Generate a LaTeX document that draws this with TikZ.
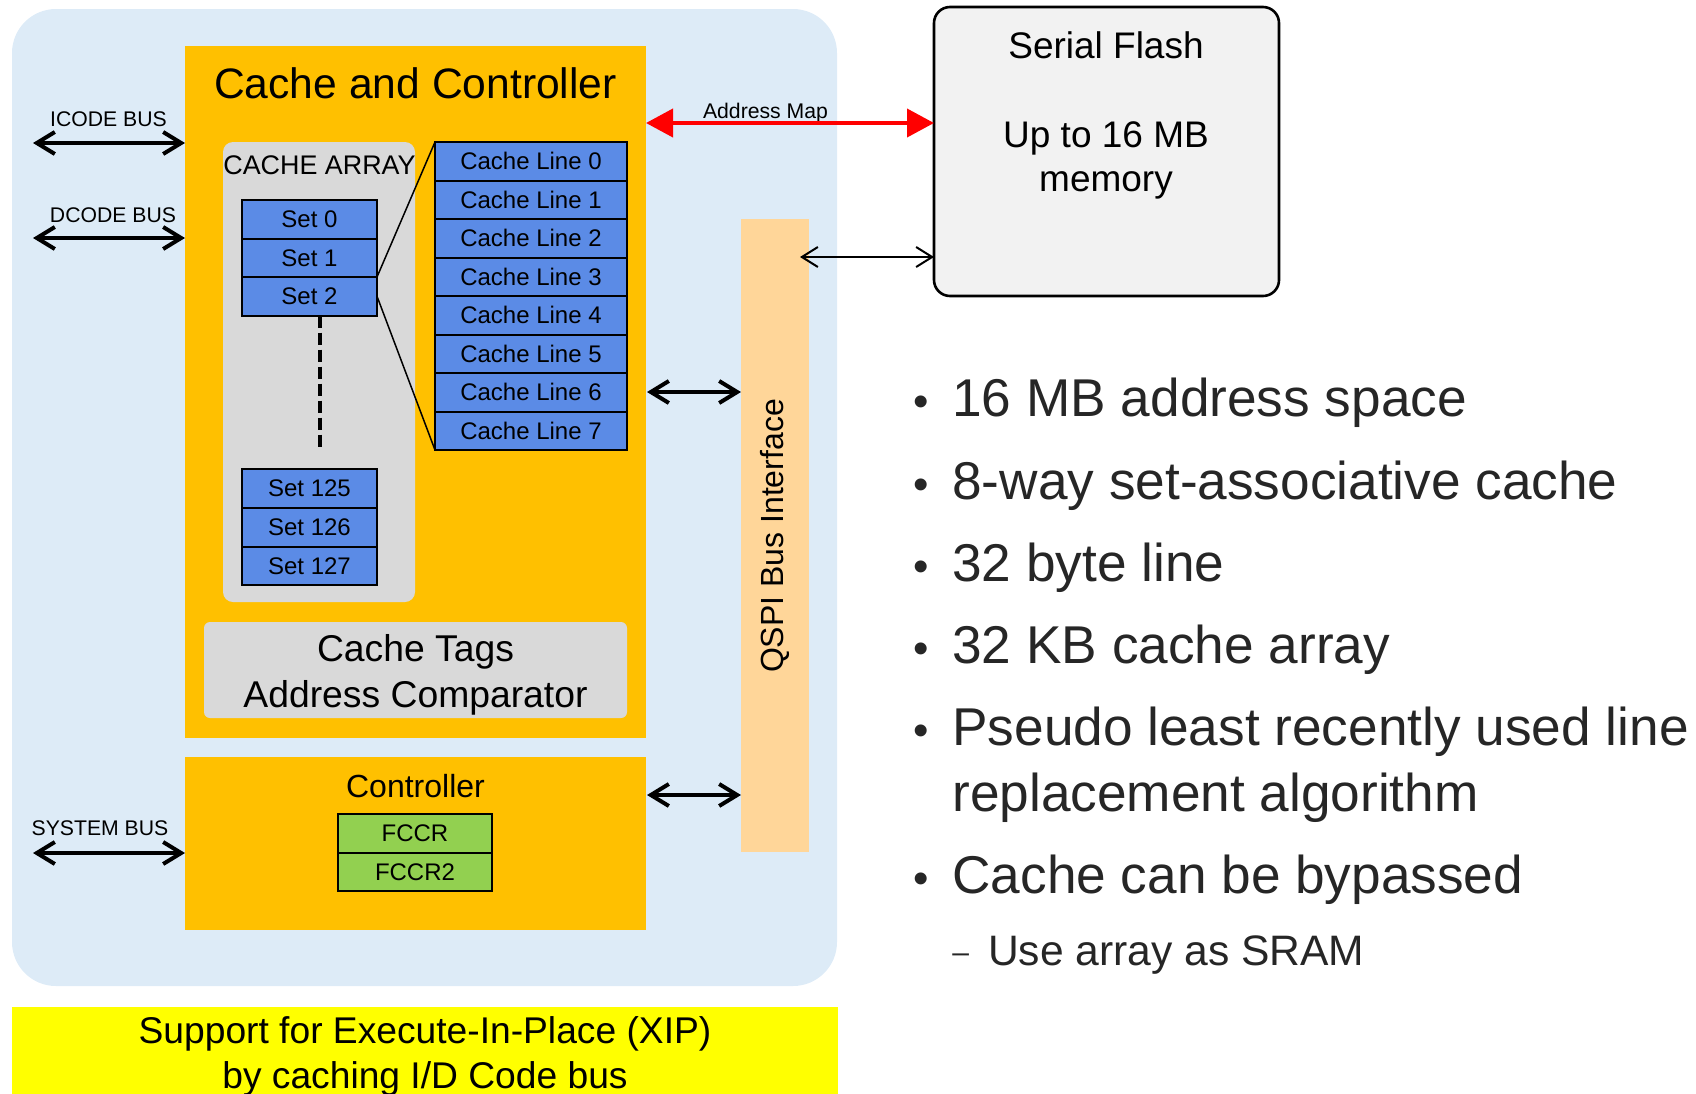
\documentclass[tikz,border=0pt]{standalone}
\usepackage{fontspec}
\setmainfont{Liberation Sans}
\usetikzlibrary{arrows.meta}

\definecolor{panelblue}{HTML}{DDEBF7}
\definecolor{ctlorange}{HTML}{FFC000}
\definecolor{arraygray}{HTML}{D9D9D9}
\definecolor{cellblue}{HTML}{5B8BE6}
\definecolor{regreen}{HTML}{92D050}
\definecolor{qspipeach}{HTML}{FFD699}
\definecolor{flashgray}{HTML}{F2F2F2}
\definecolor{bulletink}{HTML}{262626}
\definecolor{xipyellow}{HTML}{FFFF00}

% box given by its corners in pixel units (x1,y1,x2,y2)
\newcommand\pxbox[7]{%
  \node[#2,inner sep=0pt,outer sep=0pt,
        minimum width={0.5pt*((#5)-(#3))},
        minimum height={0.5pt*((#6)-(#4))}]
    (#1) at ({((#3)+(#5))/2},{((#4)+(#6))/2}) {#7};}
\newcommand\fs[1]{\fontsize{#1}{#1}\selectfont}

\begin{document}
\begin{tikzpicture}[x=0.5pt,y=-0.5pt,
  cellbox/.style={draw=black,line width=1pt,fill=cellblue,font=\fs{12}},
  regbox/.style={draw=black,line width=1pt,fill=regreen,font=\fs{12}},
  buslabel/.style={font=\fs{10.6},anchor=base,inner sep=0pt},
  busarrow/.style={line width=2pt,
    {Straight Barb[length=9pt,width=11pt]}-{Straight Barb[length=9pt,width=11pt]}},
  maparrow/.style={draw=red,line width=2pt,
    {Triangle[length=13.5pt,width=14pt]}-{Triangle[length=13.5pt,width=14pt]}},
  thinarrow/.style={line width=1pt,
    {Straight Barb[length=8pt,width=10pt]}-{Straight Barb[length=8pt,width=10pt]}},
  bullettext/.style={font=\fs{26.6},text=bulletink,anchor=base west,inner sep=0pt},
  bulletdot/.style={font=\fs{22},text=bulletink,anchor=base,inner sep=0pt}]

\useasboundingbox (0,0) rectangle (1696,1093);

% background panel
\pxbox{panel}{fill=panelblue,rounded corners=22pt}{12}{9}{837}{986}{}

% cache and controller block
\pxbox{cc}{fill=ctlorange}{185}{46}{646}{738}{}
\node[font=\fs{21.3},anchor=base,inner sep=0pt] (cctitle) at (415.5,98) {Cache and Controller};

% cache array
\pxbox{arr}{fill=arraygray,rounded corners=5pt}{223}{142}{415}{602}{}
\node[font=\fs{13.45},anchor=base,inner sep=0pt] (arrlabel) at (319.5,174) {CACHE ARRAY};

\pxbox{set0}{cellbox}{242}{200}{377}{238.5}{Set 0}
\pxbox{set1}{cellbox}{242}{238.5}{377}{277}{Set 1}
\pxbox{set2}{cellbox}{242}{277}{377}{315.5}{Set 2}
\pxbox{set125}{cellbox}{242}{469}{377}{508}{Set 125}
\pxbox{set126}{cellbox}{242}{508}{377}{547}{Set 126}
\pxbox{set127}{cellbox}{242}{547}{377}{585}{Set 127}

\coordinate (dashtop) at (319.5,315.5);
\coordinate (dashbot) at (319.5,448);
\draw[line width=2pt,dash pattern=on 6pt off 2.5pt] (dashtop) -- (dashbot);

\foreach \i in {0,...,7}{
  \pxbox{cl\i}{cellbox}{435}{142+38.5*\i}{627}{180.5+38.5*\i}{Cache Line \i}
}
\draw[line width=0.75pt] (set2.north east) -- (cl0.north west);
\draw[line width=0.75pt] (set2.east) -- (cl7.south west);

% tags
\pxbox{tags}{fill=arraygray,rounded corners=3pt}{204}{622}{627}{718}{}
\node[font=\fs{18.65},anchor=base,inner sep=0pt] (tags1) at (415.5,661) {Cache Tags};
\node[font=\fs{18.65},anchor=base,inner sep=0pt] (tags2) at (415.5,707) {Address Comparator};

% controller
\pxbox{ctl}{fill=ctlorange}{185}{757}{646}{930}{}
\node[font=\fs{16},anchor=base,inner sep=0pt] (ctltitle) at (415.5,797) {Controller};
\pxbox{fccr}{regbox}{338}{814}{492}{853}{FCCR}
\pxbox{fccr2}{regbox}{338}{853}{492}{891}{FCCR2}

% QSPI bus interface
\pxbox{qspi}{fill=qspipeach}{741}{219}{809}{852}{}
\node[font=\fs{16},rotate=90,inner sep=0pt] (qspilabel) at (775,536) {QSPI Bus Interface};

% serial flash
\pxbox{flash}{draw=black,line width=1.3pt,fill=flashgray,rounded corners=8pt}{934}{7}{1279}{296}{}
\node[font=\fs{18.5},anchor=base,inner sep=0pt] (fl1) at (1106,58) {Serial Flash};
\node[font=\fs{18.5},anchor=base,inner sep=0pt] (fl2) at (1106,147) {Up to 16 MB};
\node[font=\fs{18.5},anchor=base,inner sep=0pt] (fl3) at (1106,191) {memory};

% bus labels and arrows
\node[buslabel] (icode) at (108.5,126) {ICODE BUS};
\node[buslabel] (dcode) at (113,222) {DCODE BUS};
\node[buslabel] (sysbus) at (100,835) {SYSTEM BUS};
\coordinate (icodeL) at (33,143);
\coordinate (dcodeL) at (33,238);
\coordinate (sysL) at (33,853);
\draw[busarrow] (icodeL) -- (icodeL -| cc.west);
\draw[busarrow] (dcodeL) -- (dcodeL -| cc.west);
\draw[busarrow] (sysL) -- (sysL -| ctl.west);

\coordinate (qmid) at (700,392);
\coordinate (qctl) at (700,795);
\draw[busarrow] ([xshift=0.5pt]cc.east |- qmid) -- (qspi.west |- qmid);
\draw[busarrow] ([xshift=0.5pt]ctl.east |- qctl) -- (qspi.west |- qctl);

\coordinate (amap) at (765,123);
\node[font=\fs{10.6},anchor=base,inner sep=0pt] (amaplabel) at (765.5,118) {Address Map};
\draw[maparrow] (cc.east |- amap) -- (flash.west |- amap);

\coordinate (qfl) at (800,257);
\draw[thinarrow] (qfl) -- (qfl -| flash.west);

% feature list
\node[bulletdot] (b1) at (921.5,416) {•};
\node[bullettext] (t1) at (952,416) {16 MB address space};
\node[bulletdot] (b2) at (921.5,499) {•};
\node[bullettext] (t2) at (952,499) {8-way set-associative cache};
\node[bulletdot] (b3) at (921.5,581) {•};
\node[bullettext] (t3) at (952,581) {32 byte line};
\node[bulletdot] (b4) at (921.5,663) {•};
\node[bullettext] (t4) at (952,663) {32 KB cache array};
\node[bulletdot] (b5) at (921.5,745) {•};
\node[bullettext] (t5) at (952,745) {Pseudo least recently used line};
\node[bullettext] (t5b) at (952,811) {replacement algorithm};
\node[bulletdot] (b6) at (921.5,893) {•};
\node[bullettext] (t6) at (952,893) {Cache can be bypassed};
\node[bullettext,font=\fs{21.3}] (t7) at (952,965)
  {\raisebox{1.5pt}{\fs{15}–}\hspace{9.5pt}Use array as SRAM};

% XIP banner
\pxbox{xip}{fill=xipyellow}{12}{1007}{838}{1110}{}
\node[font=\fs{18.6},anchor=base,inner sep=0pt] (xip1) at (425,1043) {Support for Execute-In-Place (XIP)};
\node[font=\fs{18.6},anchor=base,inner sep=0pt] (xip2) at (425,1088) {by caching I/D Code bus};

\end{tikzpicture}
\end{document}
